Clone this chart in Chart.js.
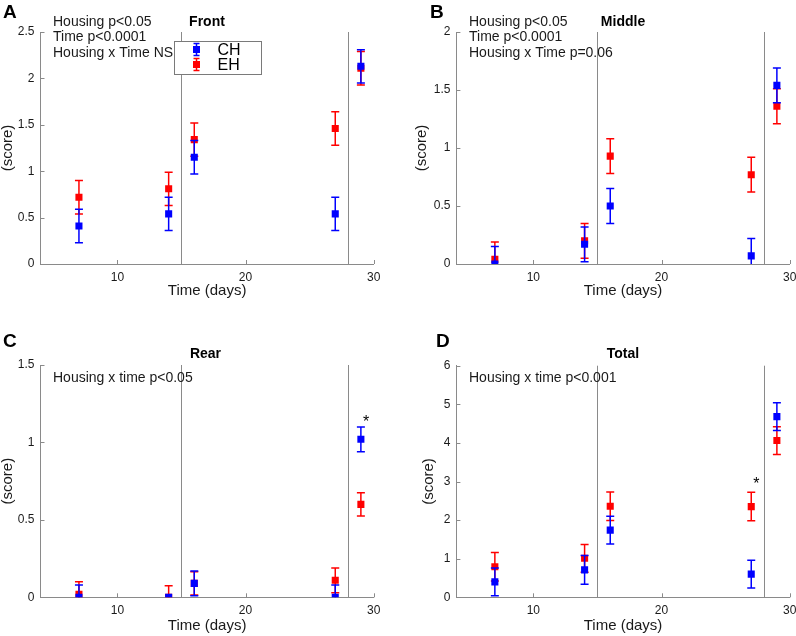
<!DOCTYPE html>
<html><head><meta charset="utf-8">
<script src="https://cdn.jsdelivr.net/npm/chart.js@4.4.1/dist/chart.umd.min.js"></script>
<style>
html,body{margin:0;padding:0;background:#fff;width:796px;height:636px;overflow:hidden}
canvas{position:absolute}
</style></head><body>
<canvas id="cA" width="398" height="318" style="left:0px;top:0px"></canvas>
<canvas id="cB" width="398" height="318" style="left:398px;top:0px"></canvas>
<canvas id="cC" width="398" height="318" style="left:0px;top:318px"></canvas>
<canvas id="cD" width="398" height="318" style="left:398px;top:318px"></canvas>
<script>
// ---- data ----
const days = [7, 14, 16, 27, 29];
const xTicks = [10, 20, 30];
const dividerDays = [15, 28];
const groupLabels = ['CH', 'EH'];

const frontCH = [0.41, 0.54, 1.15, 0.54, 2.13];
const frontCHErr = [0.18, 0.18, 0.18, 0.18, 0.18];
const frontEH = [0.72, 0.81, 1.34, 1.46, 2.11];
const frontEHErr = [0.18, 0.18, 0.18, 0.18, 0.18];
const yTicksFront = [0, 0.5, 1, 1.5, 2, 2.5];

const middleCH = [0.0, 0.17, 0.50, 0.07, 1.54];
const middleCHErr = [0.15, 0.15, 0.15, 0.15, 0.15];
const middleEH = [0.04, 0.20, 0.93, 0.77, 1.36];
const middleEHErr = [0.15, 0.15, 0.15, 0.15, 0.15];
const yTicksMiddle = [0, 0.5, 1, 1.5, 2];

const rearCH = [0.0, 0.0, 0.09, 0.0, 1.02];
const rearCHErr = [0.08, 0.0, 0.08, 0.08, 0.08];
const rearEH = [0.02, 0.0, 0.09, 0.11, 0.60];
const rearEHErr = [0.08, 0.075, 0.075, 0.08, 0.075];
const yTicksRear = [0, 0.5, 1, 1.5];

const totalCH = [0.40, 0.71, 1.74, 0.60, 4.68];
const totalCHErr = [0.36, 0.37, 0.36, 0.36, 0.36];
const totalEH = [0.79, 1.01, 2.36, 2.35, 4.06];
const totalEHErr = [0.37, 0.36, 0.37, 0.37, 0.36];
const yTicksTotal = [0, 1, 2, 3, 4, 5, 6];

const rearStars = [{x: 29.4, y: 1.15}];
const totalStars = [{x: 27.4, y: 3.0}];

const statsFront = ['Housing p<0.05', 'Time p<0.0001', 'Housing x Time NS'];
const statsMiddle = ['Housing p<0.05', 'Time p<0.0001', 'Housing x Time p=0.06'];
const statsRear = ['Housing x time p<0.05'];
const statsTotal = ['Housing x time p<0.001'];

// ---- rendering ----
const FONT = "'Liberation Sans', Arial, Helvetica, sans-serif";
Chart.defaults.font.family = FONT;
const AXIS_COLOR = '#8a8a8a';
const TEXT_COLOR = '#1a1a1a';
const COLORS = ['#0000ff', '#ff0000'];

const decor = {
  id: 'decor',
  beforeDatasetsDraw(chart, args, o) {
    const {ctx, chartArea: a, scales: {x}} = chart;
    ctx.save();
    ctx.strokeStyle = AXIS_COLOR; ctx.lineWidth = 1;
    dividerDays.forEach(d => {
      const px = Math.round(x.getPixelForValue(d)) + 0.5;
      ctx.beginPath(); ctx.moveTo(px, a.top); ctx.lineTo(px, a.bottom); ctx.stroke();
    });
    ctx.restore();
  },
  beforeDatasetDraw(chart, args) {
    const ds = chart.data.datasets[args.index];
    if (!ds.errors) return;
    const {ctx, chartArea: a, scales: {x, y}} = chart;
    ctx.save();
    ctx.beginPath(); ctx.rect(a.left, a.top, a.right - a.left, a.bottom - a.top); ctx.clip();
    ctx.strokeStyle = ds.borderColor; ctx.lineWidth = 1.5;
    ds.data.forEach((p, i) => {
      const e = ds.errors[i];
      if (!e) return;
      const px = x.getPixelForValue(p.x);
      const hi = y.getPixelForValue(p.y + e), lo = y.getPixelForValue(p.y - e);
      ctx.beginPath();
      ctx.moveTo(px, hi); ctx.lineTo(px, lo);
      ctx.moveTo(px - 4, hi); ctx.lineTo(px + 4, hi);
      ctx.moveTo(px - 4, lo); ctx.lineTo(px + 4, lo);
      ctx.stroke();
    });
    ctx.restore();
  },
  afterDraw(chart, args, o) {
    const {ctx, chartArea: a, scales: {x, y}} = chart;
    ctx.save();
    // inward tick marks
    ctx.strokeStyle = AXIS_COLOR; ctx.lineWidth = 1;
    y.ticks.forEach(t => {
      const py = Math.round(y.getPixelForValue(t.value)) + 0.5;
      ctx.beginPath(); ctx.moveTo(a.left, py); ctx.lineTo(a.left + 4, py); ctx.stroke();
    });
    x.ticks.forEach(t => {
      const px = Math.round(x.getPixelForValue(t.value)) + 0.5;
      ctx.beginPath(); ctx.moveTo(px, a.bottom); ctx.lineTo(px, a.bottom - 4); ctx.stroke();
    });
    // panel letter
    ctx.fillStyle = '#000';
    ctx.textAlign = 'left'; ctx.textBaseline = 'alphabetic';
    ctx.font = 'bold 19px ' + FONT;
    ctx.fillText(o.letter, o.letterX, o.letterY);
    // panel title
    ctx.font = 'bold 14px ' + FONT;
    ctx.textAlign = 'center';
    ctx.fillText(o.title, o.titleX, o.titleY);
    // stats text
    ctx.font = '14px ' + FONT;
    ctx.textAlign = 'left';
    ctx.fillStyle = TEXT_COLOR;
    o.stats.forEach((s, i) => ctx.fillText(s, o.statsX, o.statsY + i * 15.5));
    // significance stars
    ctx.font = '16px ' + FONT; ctx.textAlign = 'center'; ctx.textBaseline = 'middle';
    ctx.fillStyle = '#000';
    (o.stars || []).forEach(s => ctx.fillText('*', x.getPixelForValue(s.x), y.getPixelForValue(s.y) + 3));
    // legend
    if (o.legend) {
      const L = o.legend;
      ctx.fillStyle = '#fff';
      ctx.fillRect(L.x, L.y, L.w, L.h);
      ctx.strokeStyle = '#7a7a7a'; ctx.lineWidth = 1;
      ctx.strokeRect(L.x + 0.5, L.y + 0.5, L.w - 1, L.h - 1);
      chart.data.datasets.forEach((ds, i) => {
        const cy = L.y + 8.5 + i * 15;
        const cx = L.x + 22.5;
        ctx.strokeStyle = ds.borderColor; ctx.lineWidth = 1.5;
        ctx.beginPath();
        ctx.moveTo(cx, cy - 6); ctx.lineTo(cx, cy + 6);
        ctx.moveTo(cx - 3, cy - 6); ctx.lineTo(cx + 3, cy - 6);
        ctx.moveTo(cx - 3, cy + 6); ctx.lineTo(cx + 3, cy + 6);
        ctx.stroke();
        ctx.fillStyle = ds.backgroundColor;
        ctx.fillRect(cx - 3.5, cy - 3.5, 7, 7);
        ctx.fillStyle = '#000';
        ctx.font = '16px ' + FONT; ctx.textAlign = 'left'; ctx.textBaseline = 'middle';
        ctx.fillText(ds.label, L.x + 43.5, cy + 1);
      });
    }
    ctx.restore();
  }
};

function makePanel(id, cfg) {
  const W = 398, H = 318;
  const mk = (vals, errs, i) => ({
    label: groupLabels[i],
    data: days.map((d, k) => ({x: d, y: vals[k]})),
    errors: errs,
    backgroundColor: COLORS[i],
    borderColor: COLORS[i],
    borderWidth: 0,
    pointStyle: 'rect',
    pointRadius: 5,
    pointHoverRadius: 5,
    clip: 0
  });
  new Chart(document.getElementById(id), {
    type: 'scatter',
    data: { datasets: [mk(cfg.ch, cfg.chErr, 0), mk(cfg.eh, cfg.ehErr, 1)] },
    plugins: [decor],
    options: {
      responsive: false,
      animation: false,
      events: [],
      layout: { padding: { left: 0, top: cfg.top, right: W - cfg.right, bottom: 0 } },
      plugins: {
        legend: { display: false },
        tooltip: { enabled: false },
        title: { display: false },
        decor: cfg.decor
      },
      scales: {
        x: {
          type: 'linear', min: 4, max: 30,
          afterBuildTicks: s => { s.ticks = xTicks.map(v => ({value: v})); },
          afterFit: s => { s.height = H - cfg.bottom; s.paddingLeft = 0; s.paddingRight = 0; },
          grid: { display: false, drawTicks: false },
          border: { display: true, color: AXIS_COLOR, width: 1 },
          ticks: { padding: 6, color: TEXT_COLOR, font: { size: 12 }, callback: v => String(v), maxRotation: 0 },
          title: { display: true, text: 'Time (days)', color: TEXT_COLOR,
                   font: { size: 15, lineHeight: 1 }, padding: { top: 0, bottom: cfg.xTitlePad } }
        },
        y: {
          type: 'linear', min: 0, max: cfg.yTicks[cfg.yTicks.length - 1],
          afterBuildTicks: s => { s.ticks = cfg.yTicks.map(v => ({value: v})); },
          afterFit: s => { s.width = cfg.left; s.paddingTop = 0; s.paddingBottom = 0; },
          grid: { display: false, drawTicks: false },
          border: { display: true, color: AXIS_COLOR, width: 1 },
          ticks: { padding: 6, color: TEXT_COLOR, font: { size: 12 }, callback: v => String(v) },
          title: { display: true, text: '(score)', color: TEXT_COLOR,
                   font: { size: 15, lineHeight: 1 }, padding: { top: cfg.yTitlePad, bottom: 0 } }
        }
      }
    }
  });
}

makePanel('cA', {
  ch: frontCH, chErr: frontCHErr, eh: frontEH, ehErr: frontEHErr, yTicks: yTicksFront,
  left: 40.5, right: 373.7, top: 32, bottom: 264, xTitlePad: 19.5, yTitlePad: 0,
  decor: { letter: 'A', letterX: 3, letterY: 18.3, title: 'Front', titleX: 207, titleY: 25.5,
           stats: statsFront, statsX: 53, statsY: 25.5, stars: [],
           legend: { x: 174, y: 41, w: 88, h: 34 } }
});
makePanel('cB', {
  ch: middleCH, chErr: middleCHErr, eh: middleEH, ehErr: middleEHErr, yTicks: yTicksMiddle,
  left: 58.4, right: 391.7, top: 32, bottom: 264, xTitlePad: 19.5, yTitlePad: 16,
  decor: { letter: 'B', letterX: 32, letterY: 18.3, title: 'Middle', titleX: 225, titleY: 25.5,
           stats: statsMiddle, statsX: 71, statsY: 25.5, stars: [] }
});
makePanel('cC', {
  ch: rearCH, chErr: rearCHErr, eh: rearEH, ehErr: rearEHErr, yTicks: yTicksRear,
  left: 40.5, right: 373.7, top: 47, bottom: 279.3, xTitlePad: 2.5, yTitlePad: 0,
  decor: { letter: 'C', letterX: 3, letterY: 28.7, title: 'Rear', titleX: 205.5, titleY: 39.7,
           stats: statsRear, statsX: 53, statsY: 63.5, stars: rearStars }
});
makePanel('cD', {
  ch: totalCH, chErr: totalCHErr, eh: totalEH, ehErr: totalEHErr, yTicks: yTicksTotal,
  left: 58.4, right: 391.7, top: 47.7, bottom: 279.3, xTitlePad: 2.5, yTitlePad: 23.5,
  decor: { letter: 'D', letterX: 38, letterY: 28.7, title: 'Total', titleX: 225, titleY: 39.7,
           stats: statsTotal, statsX: 71, statsY: 63.5, stars: totalStars }
});
</script>
</body></html>
